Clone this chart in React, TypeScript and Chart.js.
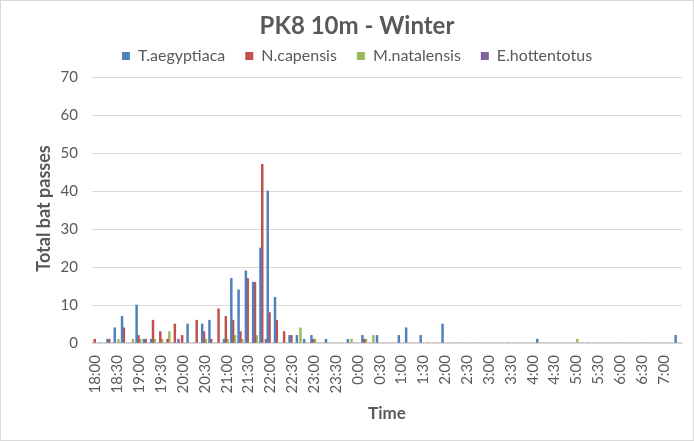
import React, { useEffect, useRef } from "react";
import { Chart, registerables } from "chart.js";

Chart.register(...registerables);

const chartTitle = "PK8 10m - Winter";
const xTitle = "Time";
const yTitle = "Total bat passes";

const timeLabels = [
  "18:00", "18:10", "18:20", "18:30", "18:40", "18:50",
  "19:00", "19:10", "19:20", "19:30", "19:40", "19:50",
  "20:00", "20:10", "20:20", "20:30", "20:40", "20:50",
  "21:00", "21:10", "21:20", "21:30", "21:40", "21:50",
  "22:00", "22:10", "22:20", "22:30", "22:40", "22:50",
  "23:00", "23:10", "23:20", "23:30", "23:40", "23:50",
  "0:00", "0:10", "0:20", "0:30", "0:40", "0:50",
  "1:00", "1:10", "1:20", "1:30", "1:40", "1:50",
  "2:00", "2:10", "2:20", "2:30", "2:40", "2:50",
  "3:00", "3:10", "3:20", "3:30", "3:40", "3:50",
  "4:00", "4:10", "4:20", "4:30", "4:40", "4:50",
  "5:00", "5:10", "5:20", "5:30", "5:40", "5:50",
  "6:00", "6:10", "6:20", "6:30", "6:40", "6:50",
  "7:00", "7:10", "7:20",
];

const shownTickLabels = [
  "18:00", "18:30", "19:00", "19:30", "20:00", "20:30", "21:00", "21:30",
  "22:00", "22:30", "23:00", "23:30", "0:00", "0:30", "1:00", "1:30",
  "2:00", "2:30", "3:00", "3:30", "4:00", "4:30", "5:00", "5:30",
  "6:00", "6:30", "7:00",
];

const yTicks = [0, 10, 20, 30, 40, 50, 60, 70];

const tAegyptiaca = [
  0, 0, 1, 4, 7, 0,
  10, 1, 1, 0, 0, 0,
  0, 5, 0, 5, 6, 0,
  1, 17, 14, 19, 16, 25,
  40, 12, 0, 2, 2, 1,
  2, 0, 1, 0, 0, 1,
  0, 2, 0, 2, 0, 0,
  2, 4, 0, 2, 0, 0,
  5, 0, 0, 0, 0, 0,
  0, 0, 0, 0, 0, 0,
  0, 1, 0, 0, 0, 0,
  0, 0, 0, 0, 0, 0,
  0, 0, 0, 0, 0, 0,
  0, 0, 2,
];

const nCapensis = [
  1, 0, 1, 0, 4, 0,
  2, 1, 6, 3, 1, 5,
  2, 0, 6, 3, 1, 9,
  7, 6, 3, 17, 16, 47,
  8, 6, 3, 2, 0, 0,
  1, 0, 0, 0, 0, 0,
  0, 1, 0, 0, 0, 0,
  0, 0, 0, 0, 0, 0,
  0, 0, 0, 0, 0, 0,
  0, 0, 0, 0, 0, 0,
  0, 0, 0, 0, 0, 0,
  0, 0, 0, 0, 0, 0,
  0, 0, 0, 0, 0, 0,
  0, 0, 0,
];

const mNatalensis = [
  0, 0, 0, 1, 0, 1,
  1, 0, 1, 1, 3, 0,
  0, 0, 0, 1, 0, 0,
  1, 2, 1, 0, 2, 0,
  0, 0, 0, 0, 4, 0,
  1, 0, 0, 0, 0, 1,
  0, 1, 2, 0, 0, 0,
  0, 0, 0, 0, 0, 0,
  0, 0, 0, 0, 0, 0,
  0, 0, 0, 0, 0, 0,
  0, 0, 0, 0, 0, 0,
  1, 0, 0, 0, 0, 0,
  0, 0, 0, 0, 0, 0,
  0, 0, 0,
];

const eHottentotus = [
  0, 0, 0, 0, 0, 0,
  0, 0, 0, 0, 0, 1,
  0, 0, 0, 0, 0, 0,
  0, 0, 0, 0, 0, 1,
  0, 0, 0, 0, 0, 0,
  0, 0, 0, 0, 0, 0,
  0, 0, 0, 0, 0, 0,
  0, 0, 0, 0, 0, 0,
  0, 0, 0, 0, 0, 0,
  0, 0, 0, 0, 0, 0,
  0, 0, 0, 0, 0, 0,
  0, 0, 0, 0, 0, 0,
  0, 0, 0, 0, 0, 0,
  0, 0, 0,
];

const seriesNames = ["T.aegyptiaca", "N.capensis", "M.natalensis", "E.hottentotus"];
const seriesColors = ["#4F81BD", "#C0504D", "#9BBB59", "#8064A2"];

const TEXT = "#595959";
const GRID = "#D9D9D9";
const FONT = "Lato";

const frame = {
  id: "frame",
  beforeDraw(chart: any) {
    const { ctx, width, height } = chart;
    ctx.save();
    ctx.fillStyle = "#FFFFFF";
    ctx.fillRect(0, 0, width, height);
    ctx.strokeStyle = GRID;
    ctx.lineWidth = 1;
    ctx.strokeRect(0.5, 0.5, width - 1, height - 1);
    ctx.restore();
  },
};

export default function App() {
  const ref = useRef<HTMLCanvasElement>(null);

  useEffect(() => {
    document.body.style.margin = "0";
    const canvas = ref.current;
    if (!canvas) return;
    const values = [tAegyptiaca, nCapensis, mNatalensis, eHottentotus];
    const chart = new Chart(canvas, {
      type: "bar",
      data: {
        labels: timeLabels,
        datasets: seriesNames.map((name, i) => ({
          label: name,
          data: values[i],
          backgroundColor: seriesColors[i],
          borderWidth: 0,
          categoryPercentage: 1,
          barPercentage: 1,
        })),
      },
      plugins: [frame],
      options: {
        animation: false,
        responsive: false,
        devicePixelRatio: 1,
        layout: { padding: { left: 32, right: 12, top: 0, bottom: 0 } },
        plugins: {
          title: {
            display: true,
            text: chartTitle,
            color: TEXT,
            font: { family: FONT, size: 24, weight: "bold", lineHeight: "4px" },
            padding: { top: 24, bottom: 0 },
          },
          legend: {
            display: true,
            position: "top",
            labels: {
              color: TEXT,
              font: { family: FONT, size: 16 },
              boxWidth: 8,
              boxHeight: 8,
              padding: 20,
            },
          },
          tooltip: { enabled: false },
        },
        scales: {
          x: {
            grid: { display: false, drawTicks: false },
            border: { display: true, color: GRID },
            ticks: {
              autoSkip: false,
              minRotation: 90,
              maxRotation: 90,
              padding: 12,
              color: TEXT,
              font: { family: FONT, size: 15 },
              callback: (_v: any, i: number) =>
                shownTickLabels.includes(timeLabels[i]) ? timeLabels[i] : "",
            },
            title: {
              display: true,
              text: xTitle,
              color: TEXT,
              font: { family: FONT, size: 17, weight: "bold" },
              padding: { top: 0, bottom: 17 },
            },
            afterFit: (s: any) => {
              s.height = 98;
              s.paddingLeft = 0;
              s.paddingRight = 0;
            },
          },
          y: {
            min: yTicks[0],
            max: 70.79,
            afterBuildTicks: (s: any) => {
              s.ticks = yTicks.map((v) => ({ value: v }));
            },
            ticks: {
              padding: 14,
              color: TEXT,
              font: { family: FONT, size: 15 },
            },
            grid: { color: GRID, drawTicks: false },
            border: { display: false },
            title: {
              display: true,
              text: yTitle,
              color: TEXT,
              font: { family: FONT, size: 18, weight: "bold" },
              padding: { top: 1.2, bottom: 0 },
            },
            afterFit: (s: any) => {
              s.width = 60;
            },
          },
        },
      },
    });
    return () => chart.destroy();
  }, []);

  return (
    <div style={{ width: 694, height: 441 }}>
      <canvas ref={ref} width={694} height={441} />
    </div>
  );
}
